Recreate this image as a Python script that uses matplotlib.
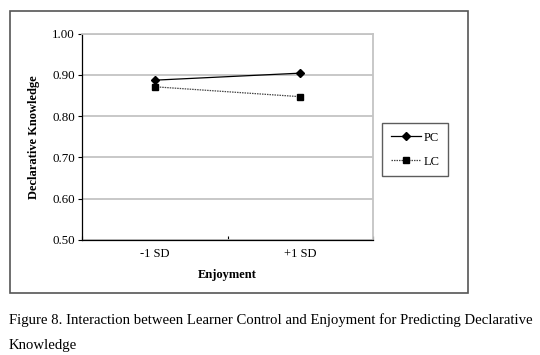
import matplotlib.pyplot as plt
from matplotlib.patches import Rectangle

# values
categories = ['-1 SD', '+1 SD']
pc_values = [0.887, 0.904]
lc_values = [0.871, 0.847]
y_ticks = [0.50, 0.60, 0.70, 0.80, 0.90, 1.00]

plt.rcParams['font.family'] = ['Liberation Serif', 'DejaVu Serif']

W, H = 540, 355
fig = plt.figure(figsize=(W / 100, H / 100), dpi=100)


def fx(px):
    return px / W


def fy(py):
    return 1 - py / H


# axes box in pixels: left 82, right 373, top 33.5, bottom 240
ax = fig.add_axes([fx(82), fy(240), fx(373) - fx(82), fy(33.5) - fy(240)])

xpos = [0.5, 1.5]
ax.plot(xpos, pc_values, color='black', lw=0.9, marker='D', ms=4,
        label='PC', zorder=3)
ax.plot(xpos, lc_values, color='#444444', lw=0.9, ls=(0, (1.2, 0.8)),
        marker='s', ms=5, mfc='black', mec='black', label='LC', zorder=3)

ax.set_xlim(0, 2)
ax.set_ylim(0.5, 1.0)
ax.set_yticks(y_ticks)
ax.set_yticklabels([f'{v:.2f}' for v in y_ticks], fontsize=9.3)
ax.yaxis.grid(True, color='#c4c4c4', lw=1.3)
ax.set_axisbelow(True)

ax.set_xticks([0, 1, 2])
ax.set_xticklabels([])
ax.set_xticks(xpos, minor=True)
ax.set_xticklabels(categories, minor=True, fontsize=9)
ax.tick_params(axis='x', which='minor', length=0, pad=6)
ax.tick_params(axis='x', which='major', length=3, direction='in', width=0.8)
ax.tick_params(axis='y', length=3, direction='out', width=0.8, pad=2)

ax.spines['top'].set_color('#c4c4c4')
ax.spines['right'].set_color('#c4c4c4')
ax.spines['top'].set_linewidth(1.3)
ax.spines['right'].set_linewidth(1.3)
ax.spines['left'].set_linewidth(0.9)
ax.spines['bottom'].set_linewidth(0.9)

ax.set_xlabel('Enjoyment', fontsize=9, fontweight='bold', labelpad=6)
ax.set_ylabel('Declarative Knowledge', fontsize=9, fontweight='bold', labelpad=9)

leg = fig.legend(loc='upper left', bbox_to_anchor=(fx(382), fy(123)),
                 borderaxespad=0, fontsize=9, frameon=True, fancybox=False,
                 handlelength=2.4, labelspacing=0.95, borderpad=0.7,
                 handletextpad=0.2)
leg.get_frame().set_edgecolor('#333333')
leg.get_frame().set_linewidth(1.0)

# outer chart frame
fig.add_artist(Rectangle((fx(10), fy(293)), fx(468) - fx(10), fy(11) - fy(293),
                         transform=fig.transFigure, fill=False,
                         edgecolor='#555555', lw=1.2))

fig.text(fx(9), fy(320), 'Figure 8. Interaction between Learner Control and Enjoyment '
         'for Predicting Declarative', fontsize=10.6, va='center', ha='left')
fig.text(fx(9), fy(345), 'Knowledge', fontsize=10.6, va='center', ha='left')

fig.savefig('out.png', dpi=100, facecolor='white')
